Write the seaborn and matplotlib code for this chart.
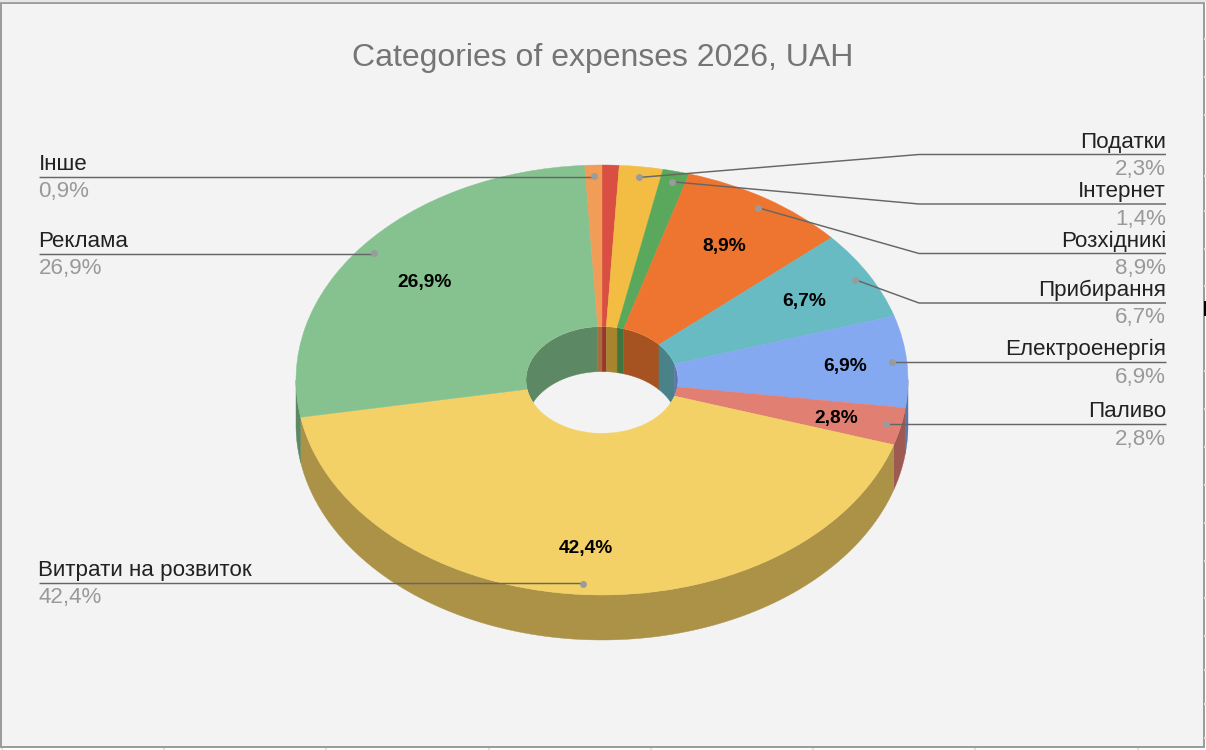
import numpy as np
import matplotlib
matplotlib.use("Agg")
import matplotlib.pyplot as plt
from matplotlib.patches import Ellipse, Rectangle
import seaborn as sns

# Expense categories, clockwise from twelve o'clock
categories = ["", "Податки", "Інтернет", "Розхідникі", "Прибирання",
              "Електроенергія", "Паливо", "Витрати на розвиток", "Реклама", "Інше"]
shares = [0.9, 2.3, 1.4, 8.9, 6.7, 6.9, 2.8, 42.4, 26.9, 0.9]
slice_colors = ["#d94f42", "#f2bd42", "#5aa85c", "#ed752f", "#68bac3",
                "#85a9f0", "#e27f73", "#f4d166", "#85c28f", "#f19c57"]
title_text = "Categories of expenses 2026, UAH"

sns.set_theme(style="white")
plt.rcParams["font.family"] = ["Liberation Sans", "DejaVu Sans"]
palette = sns.color_palette(slice_colors)
shaded = [tuple(c * 0.7 for c in col) for col in palette]

W, H = 1206, 750
CX, CY, RX, RY = 602.0, 380.0, 306.0, 215.0
DEPTH = 45.0 / RY
HOLE = 76.0 / RX
PAGE_BG = "#f3f3f3"

fig = plt.figure(figsize=(W / 100, H / 100), dpi=100, facecolor="white")


def full_axes(zorder):
    a = fig.add_axes([0, 0, 1, 1], zorder=zorder)
    a.set_xlim(0, W)
    a.set_ylim(H, 0)
    a.axis("off")
    return a


# Sheet behind the chart, with its border and the stubs of the grid around it
base = full_axes(0)
base.add_patch(Rectangle((1, 2.5), 1202.5, 744.5, facecolor=PAGE_BG,
                         edgecolor="#9a9a9a", linewidth=1.4))
grid_right = [39, 77, 115, 176, 211, 249, 286, 371, 409, 447, 485, 523, 561,
              598, 636, 670, 704, 738]
grid_bottom = [1.5, 164, 326, 488.5, 651, 813, 975, 1138]
base.hlines(grid_right, 1204, 1206, color="#e2e2e2", linewidth=1.6)
base.vlines(grid_bottom, 748, 750, color="#e2e2e2", linewidth=1.6)
base.add_patch(Rectangle((1204, 300.5), 2, 15.5, facecolor="black", edgecolor="none"))
base.plot([0, W], [0.8, 0.8], color="#e6e6e6", linewidth=1.6)

# The pie axes span the ellipse exactly, so radius 1 maps to RX and RY pixels
ax = fig.add_axes([(CX - RX) / W, 1 - (CY + RY) / H, 2 * RX / W, 2 * RY / H], zorder=1)
wedges, _ = ax.pie(shares, colors=palette, startangle=90, counterclock=False,
                   radius=1, wedgeprops={"width": 1 - HOLE, "linewidth": 0.3})
for w, col in zip(wedges, palette):
    w.set_edgecolor(col)
    w.set_clip_on(False)
    w.set_zorder(3)
ax.set_aspect("auto")
ax.set_xlim(-1, 1)
ax.set_ylim(-1, 1)
ax.axis("off")


def band(lo, hi, radius):
    """Outline of the wall hanging below an arc of the given radius."""
    t = np.radians(np.linspace(lo, hi, 120))
    x, y = radius * np.cos(t), radius * np.sin(t)
    return np.r_[x, x[::-1]], np.r_[y, y[::-1] - DEPTH]


hole_clip = Ellipse((0, 0), 2 * HOLE, 2 * HOLE, transform=ax.transData)
for w, col in zip(wedges, shaded):
    # Outer rim shows on the near half of the disc
    lo, hi = max(w.theta1, -180), min(w.theta2, 0)
    if hi > lo:
        xs, ys = band(lo, hi, 1)
        ax.fill(xs, ys, color=col, linewidth=0.3, clip_on=False, zorder=2)
    # Inner rim shows on the far half of the hole
    for a, b in ((0, 90), (-270, -180)):
        lo, hi = max(w.theta1, a), min(w.theta2, b)
        if hi > lo:
            xs, ys = band(lo, hi, HOLE)
            poly = ax.fill(xs, ys, color=col, linewidth=0.3, zorder=2)[0]
            poly.set_clip_path(hole_clip)


def on_slice(w, r):
    t = np.radians((w.theta1 + w.theta2) / 2)
    return r * np.cos(t), r * np.sin(t)


def pct(v):
    return f"{v:.1f}%".replace(".", ",")


# Bold shares printed on the larger slices
inner_radii = [None, None, None, 0.745, 0.757, 0.797, 0.783, 0.777, 0.74, None]
for w, v, r in zip(wedges, shares, inner_radii):
    if r is not None:
        x, y = on_slice(w, r)
        ax.text(x, y - 1.7 / RY, pct(v), ha="center", va="center", fontsize=13.8,
                fontweight="bold", color="black", zorder=5, clip_on=False)

# Callouts
top = full_axes(2)
top.text(602.5, 66, title_text, ha="center", va="baseline", fontsize=23.0, color="#757575")

LINE = "#666666"
DOT = "#9b9b9b"
LEFT_X, RIGHT_X, ELBOW_X = 38.5, 1166, 919
label_y = [None, 154.5, 204, 253.5, 303, 362, 424, 583, 253.7, 177]
has_elbow = [False, True, True, True, True, False, False, False, False, False]
on_left = [False, False, False, False, False, False, False, True, True, True]

for i, w in enumerate(wedges):
    if not categories[i]:
        continue
    x, y = on_slice(w, 0.95)
    px, py = CX + RX * x, CY - RY * y
    ly = label_y[i]
    edge = LEFT_X if on_left[i] else RIGHT_X
    xs = [px, ELBOW_X, edge] if has_elbow[i] else [px, edge]
    ys = [py, ly, ly] if has_elbow[i] else [ly, ly]
    top.plot(xs, ys, color=LINE, linewidth=1.05, solid_capstyle="butt", zorder=3)
    top.plot([px], [py], "o", color=DOT, markersize=5, markeredgewidth=0, zorder=4)
    ha = "left" if on_left[i] else "right"
    top.text(edge, ly - 6.8, categories[i], ha=ha, va="baseline", fontsize=16.1, color="#222222")
    top.text(edge, ly + 20.5, pct(shares[i]), ha=ha, va="baseline", fontsize=16.1, color="#999999")

fig.savefig("out.png", dpi=100, facecolor="white")
